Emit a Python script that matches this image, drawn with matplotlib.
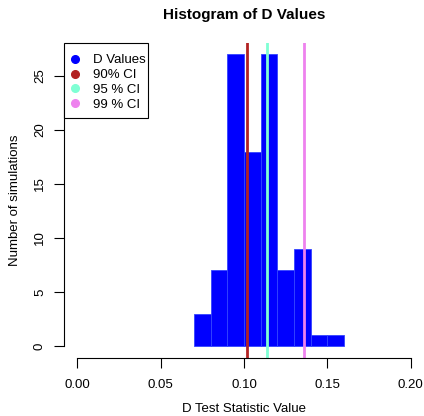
import matplotlib
matplotlib.use("Agg")
import matplotlib.pyplot as plt
from matplotlib.lines import Line2D
from matplotlib.patches import Rectangle
import numpy as np

plt.rcParams['font.family'] = ['Liberation Sans', 'DejaVu Sans']

# histogram bins and counts
bin_edges = [0.07, 0.08, 0.09, 0.10, 0.11, 0.12, 0.13, 0.14, 0.15, 0.16]
counts = [3, 7, 27, 18, 27, 7, 9, 1, 1]

# confidence interval cut-offs
ci_labels = ["90% CI", "95 % CI", "99 % CI"]
ci_values = [0.1017, 0.1135, 0.1359]
ci_colors = ["#B22222", "#7FFFD4", "#EE82EE"]

x_ticks = [0.00, 0.05, 0.10, 0.15, 0.20]
y_ticks = [0, 5, 10, 15, 20, 25]

fig = plt.figure(figsize=(4.24, 4.16), dpi=100)
ax = fig.add_axes([64 / 424, 58.3 / 416, 360 / 424, 315 / 416])

edges = np.array(bin_edges)
ax.bar(edges[:-1], counts, width=np.diff(edges), align='edge',
       color='#0000FF', edgecolor='#3344FF', linewidth=0.6)
for v, c in zip(ci_values, ci_colors):
    ax.axvline(v, color=c, linewidth=2)

ax.set_xlim(-0.008, 0.208)
ax.set_ylim(-1.08, 28.08)
for s in ['top', 'right']:
    ax.spines[s].set_visible(False)
ax.spines['left'].set_bounds(0, 25)
ax.spines['bottom'].set_bounds(0, 0.2)
ax.spines['left'].set_linewidth(0.8)
ax.spines['bottom'].set_linewidth(0.8)
ax.set_xticks(x_ticks)
ax.set_xticklabels([f"{t:.2f}" for t in x_ticks])
ax.set_yticks(y_ticks)
ax.set_yticklabels([str(t) for t in y_ticks], rotation=90, va='center')
ax.tick_params(axis='x', length=7, width=0.8, labelsize=9.5, pad=8)
ax.tick_params(axis='y', length=7, width=0.8, labelsize=9.5, pad=6)

ax.set_title("Histogram of D Values", fontsize=11, fontweight='bold', pad=17)
ax.set_xlabel("D Test Statistic Value", fontsize=9.5, labelpad=9)
ax.set_ylabel("Number of simulations", fontsize=9.5, labelpad=9)

# legend box drawn separately so its padding matches the original
ax.add_patch(Rectangle((0, 1 - 0.238), 0.233, 0.238, transform=ax.transAxes,
                       facecolor='white', edgecolor='black', linewidth=0.8,
                       zorder=4, clip_on=False))
handles = [Line2D([], [], marker='o', linestyle='', color='#0000FF', markersize=5.5)]
handles += [Line2D([], [], marker='o', linestyle='', color=c, markersize=5.5) for c in ci_colors]
leg = ax.legend(handles, ["D Values"] + ci_labels, loc='center left',
                bbox_to_anchor=(0.012, 0.874), borderaxespad=0, borderpad=0,
                fontsize=9.5, frameon=False, handletextpad=0.84,
                labelspacing=0.19, handlelength=1.0)
leg.set_zorder(5)

fig.savefig("out.png", dpi=100)
